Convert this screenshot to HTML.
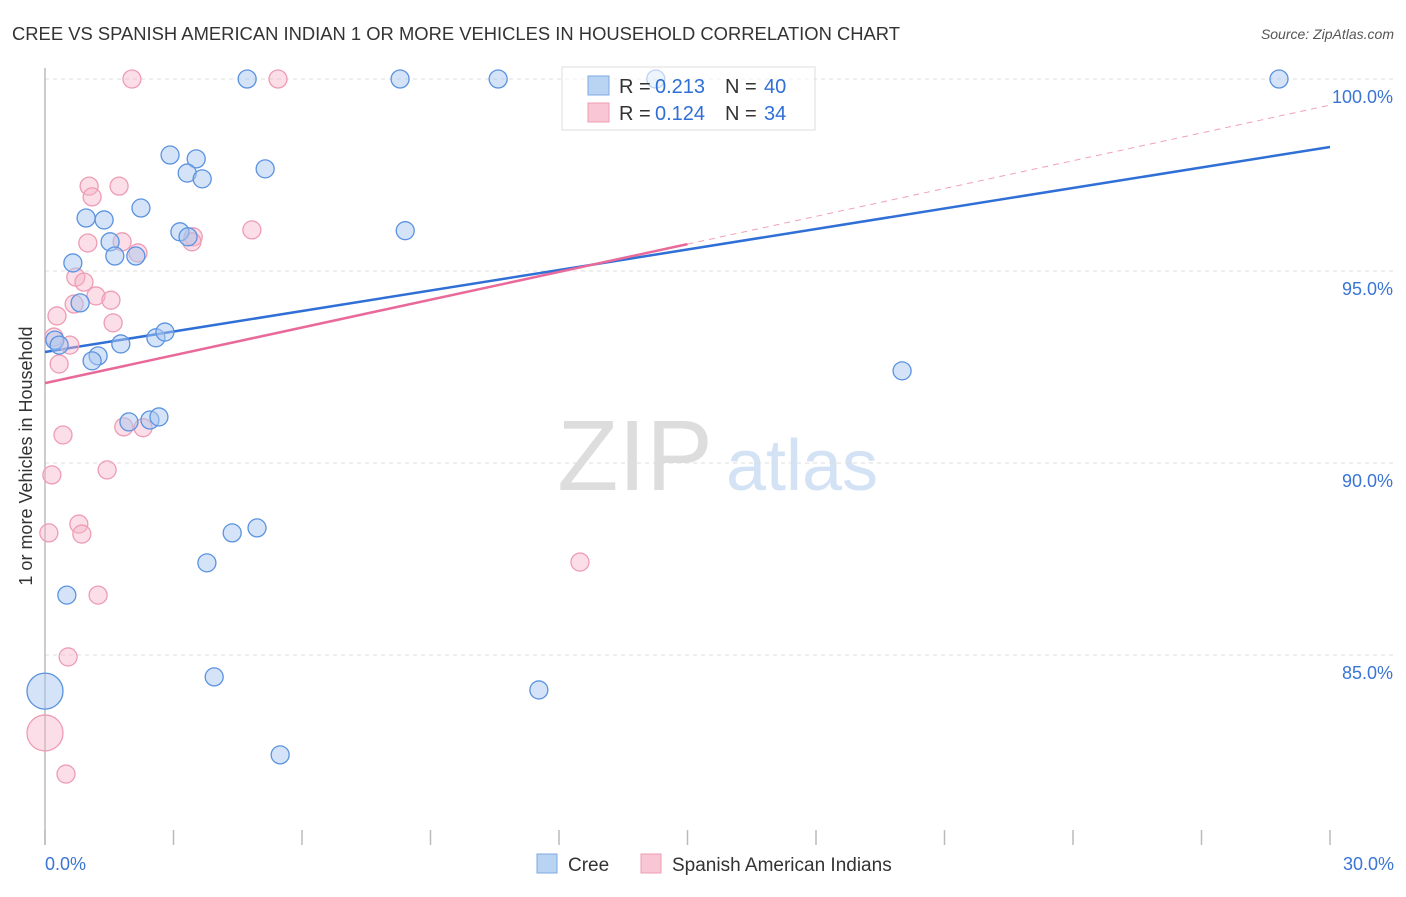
<!DOCTYPE html>
<html><head><meta charset="utf-8"><style>
body{margin:0;background:#fff;font-family:"Liberation Sans",sans-serif;}
svg text{font-family:"Liberation Sans",sans-serif;}
</style></head><body>
<svg id="chart" width="1406" height="892" xmlns="http://www.w3.org/2000/svg">
<text x="12" y="40" font-size="18" fill="#333" textLength="888" lengthAdjust="spacingAndGlyphs">CREE VS SPANISH AMERICAN INDIAN 1 OR MORE VEHICLES IN HOUSEHOLD CORRELATION CHART</text>
<text x="1394" y="39" font-size="14" fill="#555" font-style="italic" text-anchor="end">Source: ZipAtlas.com</text>
<text x="32" y="456" font-size="18" fill="#333" text-anchor="middle" transform="rotate(-90 32 456)">1 or more Vehicles in Household</text>
<g>
<text x="635" y="490" font-size="100" fill="#ddd" font-family="Liberation Serif" text-anchor="middle">ZIP</text>
<text x="802" y="490" font-size="72" fill="#d3e2f4" text-anchor="middle">atlas</text>
</g>
<g id="grid"></g><g id="axes"></g><g id="lines"></g><g id="pts"></g>
<g>
<rect x="562" y="67" width="253" height="63" fill="#fff" fill-opacity="0.6" stroke="#ddd"/>
<rect x="588" y="76" width="21" height="19" fill="#b9d3f3" stroke="#7fa8e0"/>
<text x="619" y="93" font-size="20" fill="#333">R =</text><text x="655" y="93" font-size="20" fill="#2f6fd6">0.213</text>
<text x="725" y="93" font-size="20" fill="#333">N =</text><text x="764" y="93" font-size="20" fill="#2f6fd6">40</text>
<rect x="588" y="103" width="21" height="19" fill="#f9c6d5" stroke="#ee9cb4"/>
<text x="619" y="120" font-size="20" fill="#333">R =</text><text x="655" y="120" font-size="20" fill="#2f6fd6">0.124</text>
<text x="725" y="120" font-size="20" fill="#333">N =</text><text x="764" y="120" font-size="20" fill="#2f6fd6">34</text>
</g>
<g>
<rect x="537" y="854" width="20" height="19" fill="#b9d3f3" stroke="#7fa8e0"/>
<text x="568" y="871" font-size="19" fill="#333">Cree</text>
<rect x="641" y="854" width="20" height="19" fill="#f9c6d5" stroke="#ee9cb4"/>
<text x="672" y="871" font-size="19" fill="#333">Spanish American Indians</text>
</g>
</svg>
<script>
const xTicks=[0,3,6,9,12,15,18,21,24,27,30];
const yTicks=[85,90,95,100];
const yTickLabels=["85.0%","90.0%","95.0%","100.0%"];
const creeX=[4.72,8.29,10.58,28.81,14.26,2.92,3.53,3.32,3.67,5.14,2.24,0.96,1.38,3.15,3.34,8.41,1.52,1.63,2.12,0.65,0.82,0.23,0.33,1.77,2.59,2.80,1.24,1.10,20.01,1.96,2.45,2.66,4.37,4.95,3.78,0.51,3.95,0.0,11.53,5.49];
const creeY=[100,100,100,100,100,98.02,97.92,97.55,97.40,97.66,96.64,96.38,96.33,96.02,95.89,96.05,95.76,95.39,95.39,95.21,94.17,93.20,93.07,93.10,93.26,93.41,92.79,92.66,92.40,91.07,91.12,91.20,88.18,88.31,87.40,86.56,84.43,84.06,84.09,82.40];
const creeR=[9,9,9,9,9,9,9,9,9,9,9,9,9,9,9,9,9,9,9,9,9,9,9,9,9,9,9,9,9,9,9,9,9,9,9,9,9,18,9,9];
const spX=[2.03,5.44,1.03,1.73,1.10,4.83,1.00,1.80,3.46,3.43,2.17,0.72,0.91,1.19,1.54,0.68,0.28,1.59,0.21,0.58,0.33,0.42,1.84,2.29,0.16,1.45,0.79,0.86,0.09,12.49,1.24,0.54,0.0,0.49];
const spY=[100,100,97.21,97.21,96.93,96.07,95.73,95.76,95.89,95.76,95.47,94.84,94.71,94.35,94.24,94.14,93.83,93.65,93.28,93.07,92.58,90.73,90.94,90.92,89.69,89.82,88.41,88.15,88.18,87.42,86.56,84.95,82.97,81.90];
const spR=[9,9,9,9,9,9,9,9,9,9,9,9,9,9,9,9,9,9,9,9,9,9,9,9,9,9,9,9,9,9,9,9,18,9];
const creeTrend=[92.89,98.23];
const spTrend=[92.08,95.70,99.32];
const NS="http://www.w3.org/2000/svg";
const X=v=>45+v*(1285/30), Y=v=>79+(100-v)*38.4;
function mk(p,t,a){const e=document.createElementNS(NS,t);for(const k in a)e.setAttribute(k,a[k]);document.getElementById(p).appendChild(e);return e;}
yTicks.forEach((t,i)=>{
 const g=mk('grid','line',{x1:45,x2:1394,y1:Y(t),y2:Y(t),stroke:'#ddd','stroke-dasharray':'4,4'});
 
 
 const l=mk('grid','text',{x:1393,y:Y(t)+24,'font-size':18,fill:'#3a75d4','text-anchor':'end'});
 l.textContent=yTickLabels[i];
 
 
});
const ax=mk('axes','line',{x1:45,x2:45,y1:68,y2:845,stroke:'#bbb','stroke-width':1.5});


xTicks.forEach(t=>{
 const k=mk('axes','line',{x1:X(t),x2:X(t),y1:830,y2:845,stroke:'#bbb','stroke-width':1.5});
 
 
});
[[0,'0.0%','start',45],[30,'30.0%','end',1394]].forEach(([v,s,a,x])=>{
 const t=mk('axes','text',{x:x,y:870,'font-size':18,fill:'#3a75d4','text-anchor':a});t.textContent=s;
 
 
});
const cl=mk('lines','line',{x1:X(0),y1:Y(creeTrend[0]),x2:X(30),y2:Y(creeTrend[1]),stroke:'#2f6fd6','stroke-width':2.5});


const sl=mk('lines','line',{x1:X(0),y1:Y(spTrend[0]),x2:X(15),y2:Y(spTrend[1]),stroke:'#e8699a','stroke-width':2.5});


const sd=mk('lines','line',{x1:X(15),y1:Y(spTrend[1]),x2:X(30),y2:Y(spTrend[2]),stroke:'#f0a0bc','stroke-width':1,'stroke-dasharray':'6,5'});


spX.forEach((v,i)=>{
 const c=mk('pts','circle',{cx:X(v),cy:Y(spY[i]),r:spR[i],fill:'#f7b6c9','fill-opacity':0.45,stroke:'#ee9cb4','stroke-width':1.3});
 
 
});
creeX.forEach((v,i)=>{
 const c=mk('pts','circle',{cx:X(v),cy:Y(creeY[i]),r:creeR[i],fill:'#a9c8ef','fill-opacity':0.5,stroke:'#5b93e0','stroke-width':1.3});
 
 
});
</script>
</body></html>
